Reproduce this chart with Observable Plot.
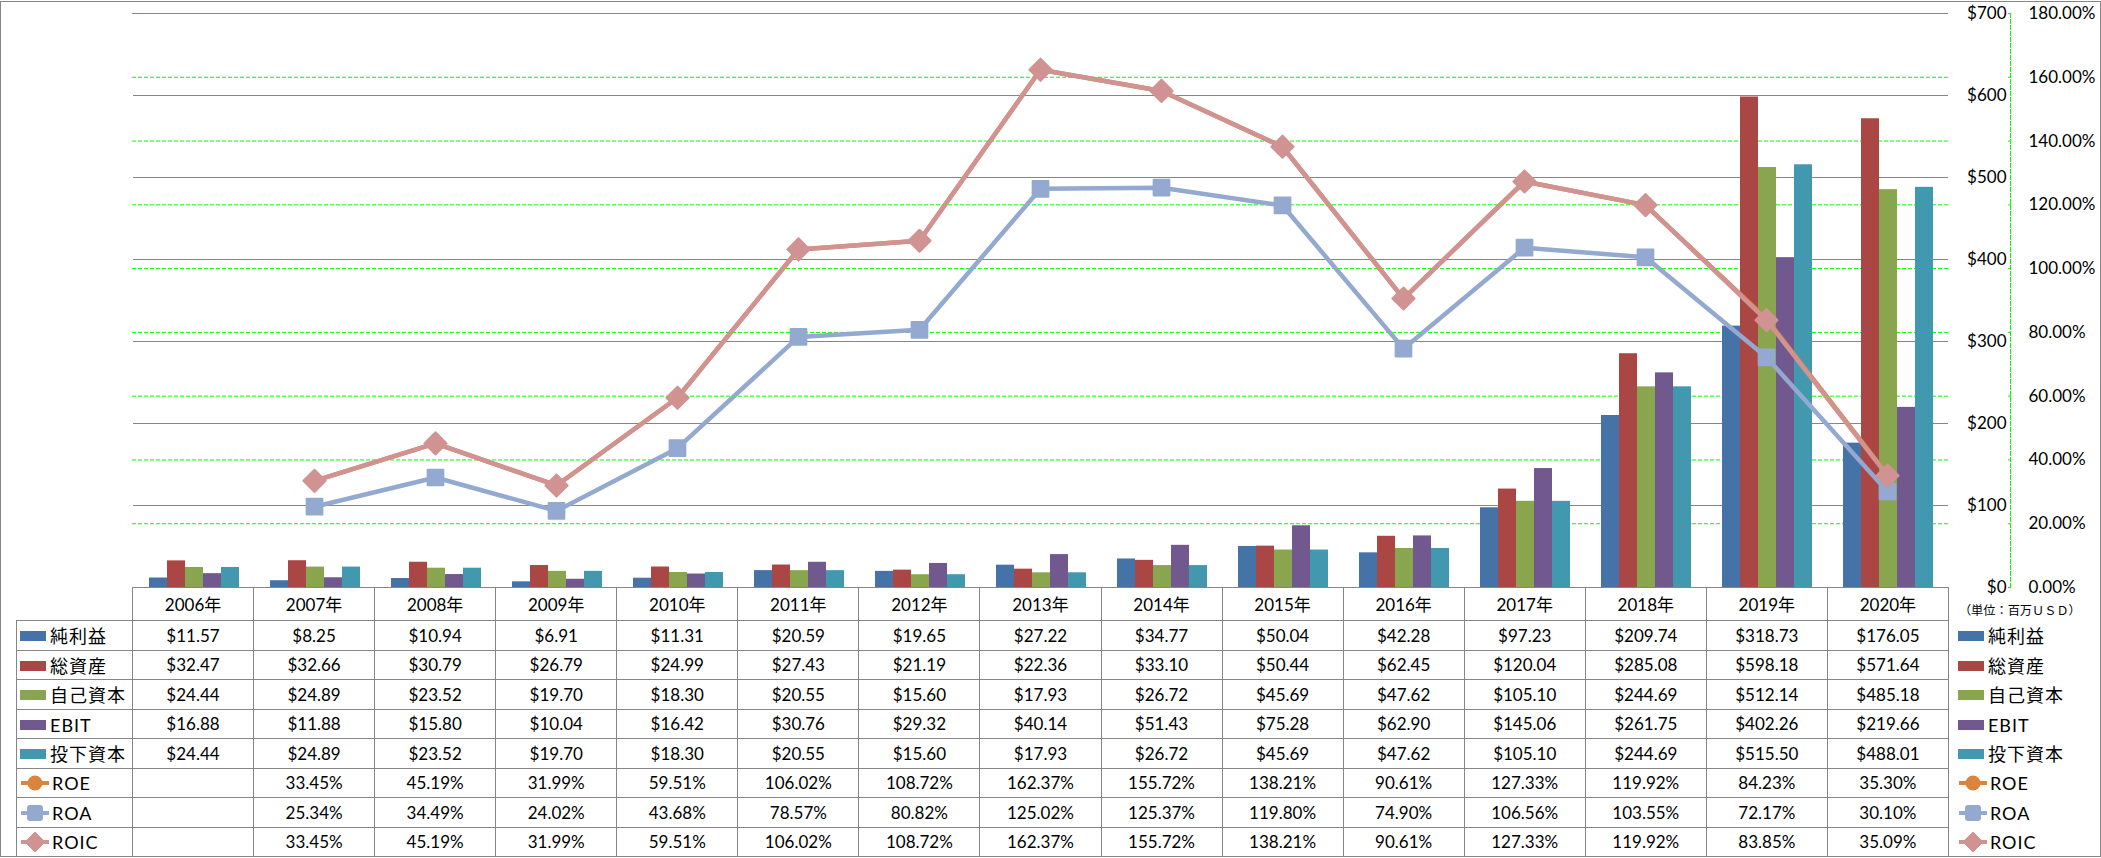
<!DOCTYPE html>
<html><head><meta charset="utf-8">
<script src="https://cdn.jsdelivr.net/npm/d3@7"></script>
<script src="https://cdn.jsdelivr.net/npm/@observablehq/plot@0.6"></script>
<style>
html,body{margin:0;padding:0;background:#fff;}
#wrap{position:relative;width:2101px;height:858px;overflow:hidden;font-family:Lato,"Noto Sans CJK JP",sans-serif;color:#000;}
#border{position:absolute;left:0;top:1px;width:2101px;height:856px;box-sizing:border-box;border:1px solid #868686;}
.layer{position:absolute;left:0;top:0;}
#tbl{position:absolute;left:16px;top:587px;border-collapse:collapse;table-layout:fixed;width:2084px;font-size:17px;}
#tbl td{border:1px solid #868686;padding:0;text-align:center;vertical-align:middle;white-space:nowrap;overflow:hidden;line-height:1;}
#tbl tr{height:29.5px;}
#tbl tr.hdr{height:33px;}
#tbl td.blank{border:none;}
#tbl td.rl{border:none;text-align:left;padding-left:9px;}
#tbl td.lg{text-align:left;padding-left:3px;}
#tbl td.unit{font-family:"Noto Sans CJK JP";font-size:12.2px;vertical-align:bottom;padding-left:10px;padding-bottom:4px;}
.sw{display:inline-block;width:26px;height:10px;vertical-align:middle;margin-right:4px;}
.ls{display:inline-block;vertical-align:middle;margin-right:2px;}
.nm{font-size:18px;vertical-align:middle;letter-spacing:1px;}
</style></head>
<body><div id="wrap"><div id="border"></div></div>
<script>
const years = ["2006年","2007年","2008年","2009年","2010年","2011年","2012年","2013年","2014年","2015年","2016年","2017年","2018年","2019年","2020年"];
const seriesNames = ["純利益","総資産","自己資本","EBIT","投下資本"];
const netIncome = [11.57,8.25,10.94,6.91,11.31,20.59,19.65,27.22,34.77,50.04,42.28,97.23,209.74,318.73,176.05];
const totalAssets = [32.47,32.66,30.79,26.79,24.99,27.43,21.19,22.36,33.10,50.44,62.45,120.04,285.08,598.18,571.64];
const equity = [24.44,24.89,23.52,19.70,18.30,20.55,15.60,17.93,26.72,45.69,47.62,105.10,244.69,512.14,485.18];
const ebit = [16.88,11.88,15.80,10.04,16.42,30.76,29.32,40.14,51.43,75.28,62.90,145.06,261.75,402.26,219.66];
const investedCapital = [24.44,24.89,23.52,19.70,18.30,20.55,15.60,17.93,26.72,45.69,47.62,105.10,244.69,515.50,488.01];
const lineNames = ["ROE","ROA","ROIC"];
const roe = [null,33.45,45.19,31.99,59.51,106.02,108.72,162.37,155.72,138.21,90.61,127.33,119.92,84.23,35.30];
const roa = [null,25.34,34.49,24.02,43.68,78.57,80.82,125.02,125.37,119.80,74.90,106.56,103.55,72.17,30.10];
const roic = [null,33.45,45.19,31.99,59.51,106.02,108.72,162.37,155.72,138.21,90.61,127.33,119.92,83.85,35.09];
const dollarTicks = [0,100,200,300,400,500,600,700];
const pctTicks = [0,20,40,60,80,100,120,140,160,180];
const unitLabel = "（単位：百万ＵＳＤ）";

const barColors = ["#4572A7","#AA4643","#89A54E","#71588F","#4198AF"];
const lineColors = ["#DB843D","#93A9CF","#D19392"];
const lineSymbols = ["circle","square2","diamond2"];
const lineR = [7,10,10];

const barValues = [netIncome,totalAssets,equity,ebit,investedCapital];
const lineValues = [roe,roa,roic];
const barData = years.flatMap((y,i)=>seriesNames.map((s,j)=>({year:y, series:s, value:barValues[j][i]})));

const W = 2101, H = 600;
const common = {width:W, height:H, marginTop:13, marginBottom:13, marginLeft:132, marginRight:153,
  style:{background:"transparent", fontFamily:'Lato, "Noto Sans CJK JP", sans-serif', fontSize:"17px", color:"#000", overflow:"visible"}};

const wrap = document.getElementById("wrap");

// table
const fmtD = v => "$" + v.toFixed(2);
const fmtP = v => v.toFixed(2) + "%";
const rows = [
  ...seriesNames.map((n,j)=>({name:n, kind:"bar", color:barColors[j], values:barValues[j], fmt:fmtD})),
  ...lineNames.map((n,j)=>({name:n, kind:"line", color:lineColors[j], sym:lineSymbols[j], values:lineValues[j], fmt:fmtP}))
];
function key(r){
  if (r.kind==="bar") return `<span class="sw" style="background:${r.color}"></span>`;
  let m;
  if (r.sym==="circle") m = `<circle cx="15" cy="10" r="7.5" fill="${r.color}"/>`;
  else if (r.sym==="square2") m = `<rect x="7" y="2" width="16" height="16" rx="3" fill="${r.color}"/>`;
  else m = `<polygon points="15,0 25,10 15,20 5,10" fill="${r.color}" stroke="${r.color}" stroke-linejoin="round"/>`;
  return `<svg class="ls" width="30" height="20"><line x1="1" y1="10" x2="29" y2="10" stroke="${r.color}" stroke-width="4"/>${m}</svg>`;
}
const colW = (1948-132)/years.length;
let html = `<table id="tbl"><colgroup><col style="width:116px">` + years.map(()=>`<col style="width:${colW}px">`).join("") + `<col style="width:152px"></colgroup>`;
html += `<tr class="hdr"><td class="blank"></td>` + years.map(y=>`<td>${y}</td>`).join("") + `<td class="rl unit">${unitLabel}</td></tr>`;
for (const r of rows) {
  html += `<tr><td class="lg">${key(r)}<span class="nm">${r.name}</span></td>` +
    r.values.map(v=>`<td>${v==null?"":r.fmt(v)}</td>`).join("") +
    `<td class="rl">${key(r)}<span class="nm">${r.name}</span></td></tr>`;
}
html += `</table>`;
wrap.insertAdjacentHTML("beforeend", html);

// layer 1: percent grid + percent axis
const p1 = Plot.plot({...common,
  x:{type:"point", domain:years, padding:0.5, axis:null},
  y:{domain:[0,180], axis:null},
  marks:[
    Plot.gridY(pctTicks, {stroke:"#00ff00", strokeOpacity:1, strokeDasharray:"4,2"}),
    Plot.frame({anchor:"right", stroke:"#00ff00", strokeDasharray:"4,2", dx:62}),
    Plot.axisY(pctTicks, {anchor:"right", tickSize:3, dx:59, tickFormat:()=>"", stroke:"#00ff00", label:null}),
    Plot.axisY(pctTicks, {anchor:"right", tickSize:0, tickPadding:80, tickFormat:d=>d.toFixed(2)+"%", label:null})
  ]});
// layer 2: bars
const p2 = Plot.plot({...common,
  fx:{domain:years, padding:0, axis:null},
  x:{domain:seriesNames, paddingInner:0, paddingOuter:0.75, axis:null},
  y:{domain:[0,700], axis:null},
  color:{domain:seriesNames, range:barColors},
  marks:[
    Plot.gridY(dollarTicks, {stroke:"#868686", strokeOpacity:1}),
    Plot.barY(barData, {fx:"year", x:"series", y:"value", fill:"series"}),
    Plot.axisY(dollarTicks, {anchor:"right", tickSize:0, tickPadding:58, textAnchor:"end", tickFormat:d=>"$"+d, label:null})
  ]});
// layer 3: lines
const lineMarks = [];
lineValues.forEach((vals,j)=>{
  const data = years.map((y,i)=>({year:y, value:vals[i]})).filter(d=>d.value!=null);
  lineMarks.push(Plot.line(data, {x:"year", y:"value", stroke:lineColors[j], strokeWidth:4.5}));
  lineMarks.push(Plot.dot(data, {x:"year", y:"value", symbol:lineSymbols[j], r:lineR[j], fill:lineColors[j], stroke:lineColors[j], strokeWidth:2, strokeLinejoin:"round"}));
});
const p3 = Plot.plot({...common,
  x:{type:"point", domain:years, padding:0.5, axis:null},
  y:{domain:[0,180], axis:null},
  marks:lineMarks});

for (const p of [p1,p2,p3]) { p.classList.add("layer"); p.style.position="absolute"; p.style.left="0"; p.style.top="0"; wrap.appendChild(p); }
</script>
</body></html>
